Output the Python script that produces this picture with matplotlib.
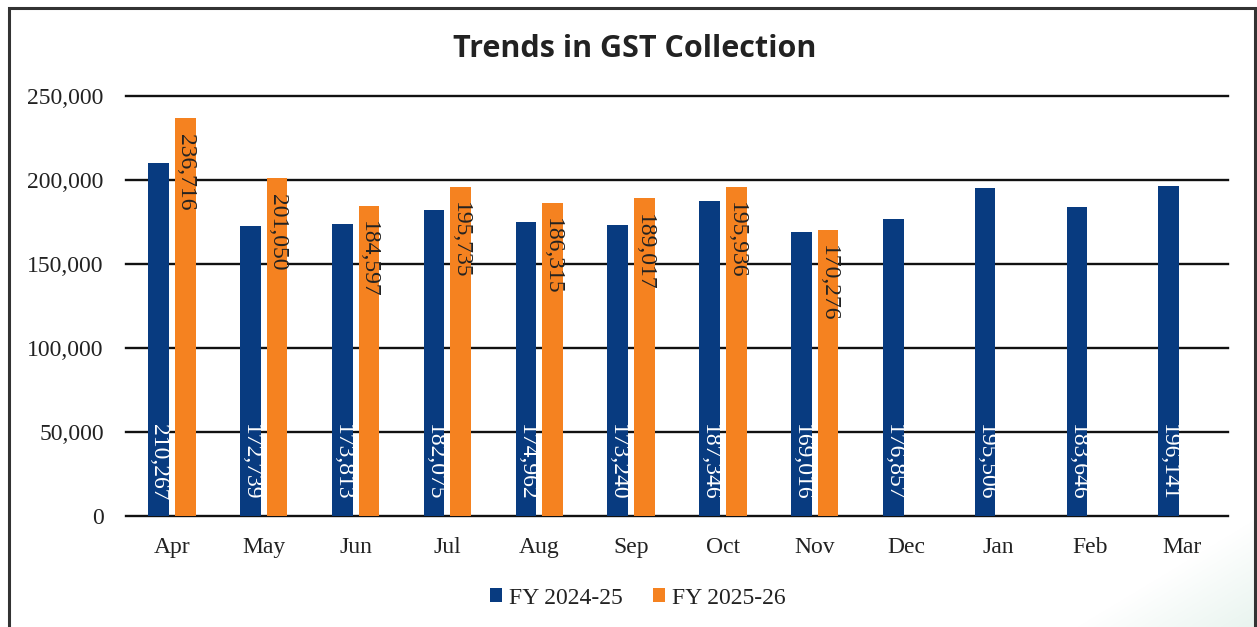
import matplotlib
matplotlib.use("Agg")
import matplotlib.pyplot as plt
from matplotlib.patches import Rectangle
from matplotlib.ticker import FuncFormatter
import numpy as np

months = ["Apr", "May", "Jun", "Jul", "Aug", "Sep", "Oct", "Nov", "Dec", "Jan", "Feb", "Mar"]
fy2425 = [210267, 172739, 173813, 182075, 174962, 173240, 187346, 169016, 176857, 195506, 183646, 196141]
fy2526 = [236716, 201050, 184597, 195735, 186315, 189017, 195936, 170276]
series_names = ["FY 2024-25", "FY 2025-26"]
title = "Trends in GST Collection"

BLUE = "#083B80"
ORANGE = "#F58220"
SERIF = "Liberation Serif"

W, H = 1257, 627
fig = plt.figure(figsize=(W / 100, H / 100), dpi=100)
fig.patch.set_facecolor("white")

# faint green shading at lower right corner
gx, gy = np.meshgrid(np.linspace(0, 1, 200), np.linspace(0, 1, 100))
grad = np.clip((gx - 0.35) * 1.2 - gy * 0.9, 0, 1)
bg = fig.add_axes([0.78, 0.0, 0.22, 0.2], zorder=-5)
rgba = np.zeros((100, 200, 4))
rgba[..., 0] = 0.86
rgba[..., 1] = 0.93
rgba[..., 2] = 0.90
rgba[..., 3] = grad * 0.8
bg.imshow(rgba, origin="lower", aspect="auto", extent=(0, 1, 0, 1))
bg.axis("off")

# outer frame
fig.add_artist(Rectangle((9 / W, -0.05), (1255 - 9) / W, (H - 8) / H + 0.05,
                         transform=fig.transFigure, fill=False,
                         edgecolor="#333333", linewidth=2.2))

ax = fig.add_axes([126 / W, 1 - 516 / H, (1228 - 126) / W, (516 - 96) / H])
ax.set_facecolor("none")

x = np.arange(len(months))
bw = 0.225
off = 0.145
b1 = ax.bar(x - off, fy2425, width=bw, color=BLUE, label=series_names[0], zorder=3)
x2 = np.arange(len(fy2526))
b2 = ax.bar(x2 + off, fy2526, width=bw, color=ORANGE, label=series_names[1], zorder=3)

fs = 17
for xi, v in zip(x - off, fy2425):
    ax.annotate(f"{v:,}", (xi, 0), xytext=(0, 11), textcoords="offset points",
                rotation=-90, ha="center", va="bottom", color="white",
                fontsize=fs, family=SERIF, zorder=4)
for xi, v in zip(x2 + off, fy2526):
    ax.annotate(f"{v:,}", (xi, v), xytext=(0, -11), textcoords="offset points",
                rotation=-90, ha="center", va="top", color="#222222",
                fontsize=fs, family=SERIF, zorder=4)

ax.set_xlim(-0.5, len(months) - 0.5)
ax.set_ylim(0, 250000)
ax.set_yticks(np.arange(0, 250001, 50000))
ax.yaxis.set_major_formatter(FuncFormatter(lambda v, p: f"{int(v):,}"))
ax.set_xticks(x)
ax.set_xticklabels(months)
ax.grid(axis="y", color="#111111", linewidth=1.7, zorder=1)
ax.set_axisbelow(True)
for gl in ax.get_ygridlines():
    gl.set_clip_on(False)
for s in ax.spines.values():
    s.set_visible(False)
ax.tick_params(axis="both", length=0, labelsize=fs, colors="#222222")
ax.tick_params(axis="y", pad=16)
ax.tick_params(axis="x", pad=15)
for lab in ax.get_xticklabels() + ax.get_yticklabels():
    lab.set_family(SERIF)

fig.text(635 / W, 1 - 49 / H, title, ha="center", va="center",
         fontsize=22, fontweight="bold", family="Open Sans", color="#222222")

leg = fig.legend(handles=[b1, b2], labels=series_names, loc="center",
                 bbox_to_anchor=(638 / W, 1 - 598 / H), ncol=2, frameon=False,
                 prop={"family": SERIF, "size": fs}, handlelength=0.5,
                 handleheight=0.5, handletextpad=0.3, columnspacing=1.3)
for t in leg.get_texts():
    t.set_color("#222222")

fig.savefig("out.png", dpi=100)
